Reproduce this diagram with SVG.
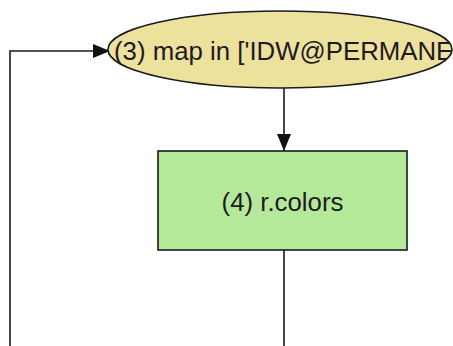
<svg xmlns="http://www.w3.org/2000/svg" width="453" height="346" viewBox="0 0 453 346">
  <style>
    .edge { fill: none; stroke: #1a1a1a; stroke-width: 1.6; }
    .shape { stroke: #1a1a1a; stroke-width: 1.6; }
    .label { font-family: "Liberation Sans", Arial, sans-serif; font-size: 25.8px; fill: #1f1a22; }
  </style>
  <defs>
    <marker id="arrow" viewBox="0 0 17 14" refX="17" refY="7" markerWidth="17" markerHeight="14" markerUnits="userSpaceOnUse" orient="auto">
      <path d="M0,0 L17,7 L0,14 Z" fill="#111"/>
    </marker>
    <clipPath id="clip3">
      <ellipse cx="280" cy="49.5" rx="172" ry="38.5"/>
    </clipPath>
  </defs>
  <rect width="453" height="346" fill="#ffffff"/>

  <g id="connectors">
    <path class="edge" d="M10,346 V51 H110" marker-end="url(#arrow)"/>
    <path class="edge" d="M284,88 V151" marker-end="url(#arrow)"/>
    <path class="edge" d="M284,250 V346"/>
  </g>

  <g id="node3">
    <ellipse class="shape" cx="280" cy="49.5" rx="172" ry="38.5" fill="#ede19e"/>
    <text class="label" x="114" y="60" clip-path="url(#clip3)">(3) map in ['IDW@PERMANE</text>
  </g>

  <g id="node4">
    <rect class="shape" x="158" y="151" width="249" height="99" fill="#b4e99a"/>
    <text class="label" x="282.5" y="211" text-anchor="middle">(4) r.colors</text>
  </g>
</svg>
